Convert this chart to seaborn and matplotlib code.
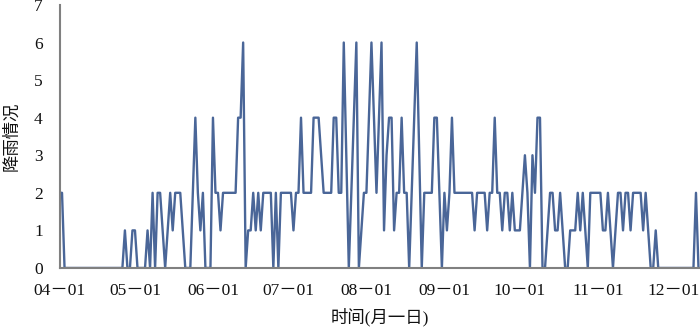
import pandas as pd
import matplotlib
matplotlib.use("Agg")
import matplotlib.pyplot as plt
import matplotlib.dates as mdates
import seaborn as sns

# daily rainfall level, starting 04-01
start_date = "2019-04-01"
rain_level = [
    2, 2, 0, 0, 0, 0, 0, 0, 0, 0,
    0, 0, 0, 0, 0, 0, 0, 0, 0, 0,
    0, 0, 0, 0, 0, 0, 1, 0, 0, 1,
    1, 0, 0, 0, 0, 1, 0, 2, 0, 2,
    2, 1, 0, 1, 2, 1, 2, 2, 2, 1,
    0, 0, 0, 2, 4, 2, 1, 2, 0, 0,
    0, 4, 2, 2, 1, 2, 2, 2, 2, 2,
    2, 4, 4, 6, 0, 1, 1, 2, 1, 2,
    1, 2, 2, 2, 2, 0, 2, 0, 2, 2,
    2, 2, 2, 1, 2, 2, 4, 2, 2, 2,
    2, 4, 4, 4, 3, 2, 2, 2, 2, 4,
    4, 2, 2, 6, 3, 0, 2, 4, 6, 0,
    1, 2, 2, 4, 6, 4, 2, 4, 6, 1,
    3, 4, 4, 1, 2, 2, 4, 2, 2, 0,
    2, 4, 6, 3, 0, 2, 2, 2, 2, 4,
    4, 2, 0, 2, 1, 2, 4, 2, 2, 2,
    2, 2, 2, 2, 2, 1, 2, 2, 2, 2,
    1, 2, 2, 4, 2, 2, 1, 2, 2, 1,
    2, 1, 1, 1, 2, 3, 2, 0, 3, 2,
    4, 4, 0, 0, 1, 2, 2, 1, 1, 2,
    1, 0, 0, 1, 1, 1, 2, 1, 2, 1,
    0, 2, 2, 2, 2, 2, 1, 1, 2, 1,
    0, 1, 2, 2, 1, 2, 2, 1, 2, 2,
    2, 2, 1, 2, 1, 0, 0, 1, 0, 0,
    0, 0, 0, 0, 0, 0, 0, 0, 0, 0,
    0, 0, 0, 2, 0,
]
y_ticks = [0, 1, 2, 3, 4, 5, 6, 7]

dates = pd.date_range(start_date, periods=len(rain_level), freq="D")
df = pd.DataFrame({"date": dates, "rain": rain_level})

sns.set_theme(style="white")
plt.rcParams["font.family"] = ["Liberation Serif", "Noto Sans CJK SC"]
plt.rcParams["axes.unicode_minus"] = False

fig = plt.figure(figsize=(7, 3.3), dpi=100)
ax = fig.add_axes([0.085, 0.188, 0.915, 0.797])

sns.lineplot(data=df, x="date", y="rain", color="#4a6698", linewidth=1.7, ax=ax)

ax.set_ylim(0, 7)
ax.set_yticks(y_ticks)
ax.set_xlim(pd.Timestamp(start_date), pd.Timestamp(start_date) + pd.Timedelta(days=254.6))
ax.xaxis.set_major_locator(mdates.MonthLocator())
ax.xaxis.set_major_formatter(mdates.DateFormatter("%m－%d"))

for side in ["top", "right"]:
    ax.spines[side].set_visible(False)
for side in ["left", "bottom"]:
    ax.spines[side].set_color("#808080")
    ax.spines[side].set_linewidth(1.5)

ax.tick_params(axis="both", direction="in", length=4, width=1, color="#333333",
               labelsize=12.5, labelcolor="#111111")
ax.tick_params(axis="y", pad=12)
ax.tick_params(axis="x", pad=11)

ax.set_xlabel("时间(月一日)", fontsize=12.5, color="#111111", labelpad=6)
ax.set_ylabel("降雨情况", fontsize=12.5, color="#111111", labelpad=10)

fig.savefig("out.png", dpi=100)
